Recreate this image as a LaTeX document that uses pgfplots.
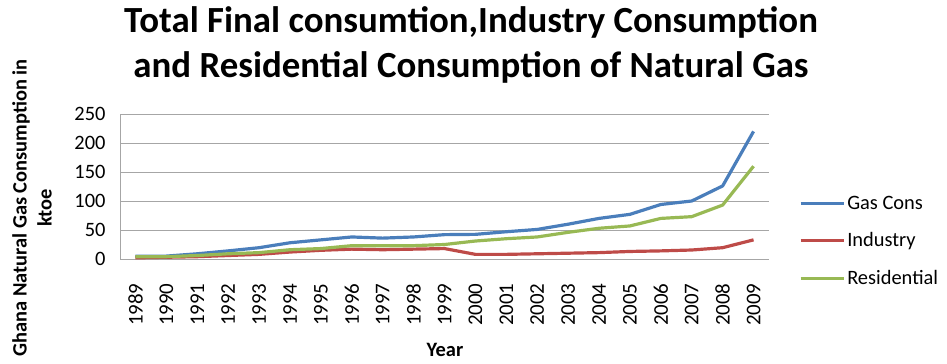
\documentclass[border=0pt]{standalone}
\usepackage{fontspec}
\setmainfont{Carlito}
\usepackage{pgfplots}
\pgfplotsset{compat=1.18}

\definecolor{gasblue}{HTML}{4A7EBB}
\definecolor{indred}{HTML}{BE4B48}
\definecolor{resgreen}{HTML}{98B954}
\definecolor{gridgray}{HTML}{A6A6A6}

\begin{document}
\begin{tikzpicture}[x=1bp,y=1bp]
\useasboundingbox (0,0) rectangle (947,363);
% chart title
\node[font=\fontsize{37}{46}\selectfont\bfseries, align=center, anchor=center]
  at (471,318) {Total Final consumtion,Industry Consumption\\and Residential Consumption of Natural Gas};
\begin{axis}[
  at={(120bp,104bp)}, anchor=south west,
  scale only axis,
  width=649bp, height=145bp,
  xmin=-0.5, xmax=20.5,
  ymin=0, ymax=250,
  ytick={0,50,...,250},
  xtick={0,...,20},
  xticklabels={1989,1990,1991,1992,1993,1994,1995,1996,1997,1998,1999,2000,2001,2002,2003,2004,2005,2006,2007,2008,2009},
  xticklabel style={rotate=90, anchor=east, font=\fontsize{21}{24}\selectfont},
  xticklabel shift=21bp,
  yticklabel style={font=\fontsize{20.5}{24}\selectfont},
  yticklabel shift=11bp,
  /pgf/number format/assume math mode=true,
  axis x line*=bottom, axis y line*=left,
  axis line style={gridgray, line width=0.8pt},
  ymajorgrids, major grid style={gridgray, line width=0.8pt},
  tick style={draw=none},
  xlabel={\bfseries Year},
  xlabel style={font=\fontsize{20.5}{24}\selectfont,
    at={(axis description cs:0.5008,-0.628)}, anchor=center},
  ylabel={\bfseries Ghana Natural Gas Consumption in\\ \bfseries ktoe},
  ylabel style={font=\fontsize{20.5}{25}\selectfont, align=center,
    at={(axis description cs:-0.1356,0.352)}, anchor=center},
  every axis plot/.append style={line width=3.2pt, line join=round},
  legend style={at={(1.046,0.124)}, anchor=west, draw=none, fill=none,
    font=\fontsize{20.5}{24}\selectfont, row sep=18bp, inner sep=0pt},
  legend cell align=left,
  legend image code/.code={\draw[#1, line width=3.2pt] (0bp,0bp) -- (43bp,0bp);},
]
\addplot[gasblue] coordinates {
(0,5) (1,5) (2,9) (3,14) (4,19.5) (5,28) (6,33) (7,38) (8,36) (9,38)
(10,42) (11,42.5) (12,47) (13,51) (14,60) (15,70) (16,77) (17,94) (18,100) (19,126) (20,220)};
\addlegendentry{Gas Cons}
\addplot[indred] coordinates {
(0,2) (1,3) (2,4) (3,6) (4,8) (5,12) (6,15) (7,17) (8,16) (9,17)
(10,18) (11,8) (12,8) (13,9) (14,10) (15,11) (16,13) (17,14) (18,15.5) (19,19.5) (20,33)};
\addlegendentry{Industry}
\addplot[resgreen] coordinates {
(0,4) (1,4) (2,6) (3,9) (4,11) (5,16) (6,18) (7,23) (8,23) (9,23)
(10,25) (11,31) (12,35) (13,38) (14,46) (15,53) (16,57) (17,70) (18,73) (19,93) (20,160)};
\addlegendentry{Residential}
\end{axis}
\end{tikzpicture}
\end{document}
